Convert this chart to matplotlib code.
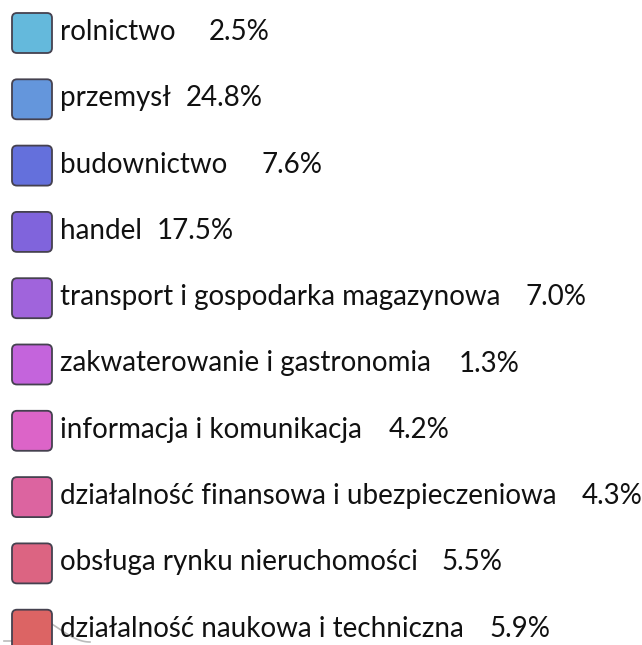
import matplotlib
matplotlib.use("Agg")
import matplotlib.pyplot as plt
from matplotlib.patches import FancyBboxPatch
import numpy as np

categories = [
    "rolnictwo",
    "przemysł",
    "budownictwo",
    "handel",
    "transport i gospodarka magazynowa",
    "zakwaterowanie i gastronomia",
    "informacja i komunikacja",
    "działalność finansowa i ubezpieczeniowa",
    "obsługa rynku nieruchomości",
    "działalność naukowa i techniczna",
]
values = [2.5, 24.8, 7.6, 17.5, 7.0, 1.3, 4.2, 4.3, 5.5, 5.9]
colors = ["#64b9dc", "#6496dc", "#6470dc", "#8064dc", "#a064dc",
          "#c464dc", "#dc64c8", "#dc64a0", "#dc6482", "#dc6464"]

# layout: pixel gap between label and percentage in each row
gaps = [33, 15, 34, 15, 25, 28, 27, 25, 24, 26]

W, H = 642, 645
fig = plt.figure(figsize=(W / 100, H / 100), dpi=100)
ax = fig.add_axes([0, 0, 1, 1])
ax.set_xlim(0, W)
ax.set_ylim(H, 0)
ax.axis("off")

fs = 20
font = "Lato"
y0, dy = 33, 66.3
sw = 40
x_sw = 12
x_txt = 60

fig.canvas.draw()
renderer = fig.canvas.get_renderer()

for i, (name, val, col) in enumerate(zip(categories, values, colors)):
    yc = y0 + i * dy
    p = FancyBboxPatch((x_sw, yc - sw / 2), sw, sw,
                       boxstyle="round,pad=0,rounding_size=5",
                       facecolor=col, edgecolor="#45414f", linewidth=1.3)
    ax.add_patch(p)
    t = ax.text(x_txt, yc + 7, name, fontsize=fs, family=font,
                color="#111111", va="baseline", ha="left")
    nw = t.get_window_extent(renderer).width
    ax.text(x_txt + nw + gaps[i], yc + 7, f"{val:.1f}%", fontsize=fs,
            family=font, color="#111111", va="baseline", ha="left")

# faint watermark logo at bottom-left
s = np.linspace(0, 1, 50)
ax.plot([4, 30], [641, 641], color="#bbbbbb", lw=1.2, zorder=0)
ax.plot(20 + 20 * s, 641 - 22 / (1 + np.exp(-10 * (s - 0.5))), color="#bbbbbb", lw=1.2, zorder=0)
ax.plot(40 + 50 * s, 619 + 23 * np.sin(np.pi / 2 * s) ** 1.5, color="#bbbbbb", lw=1.2, zorder=0)

fig.savefig("out.png", dpi=100)
